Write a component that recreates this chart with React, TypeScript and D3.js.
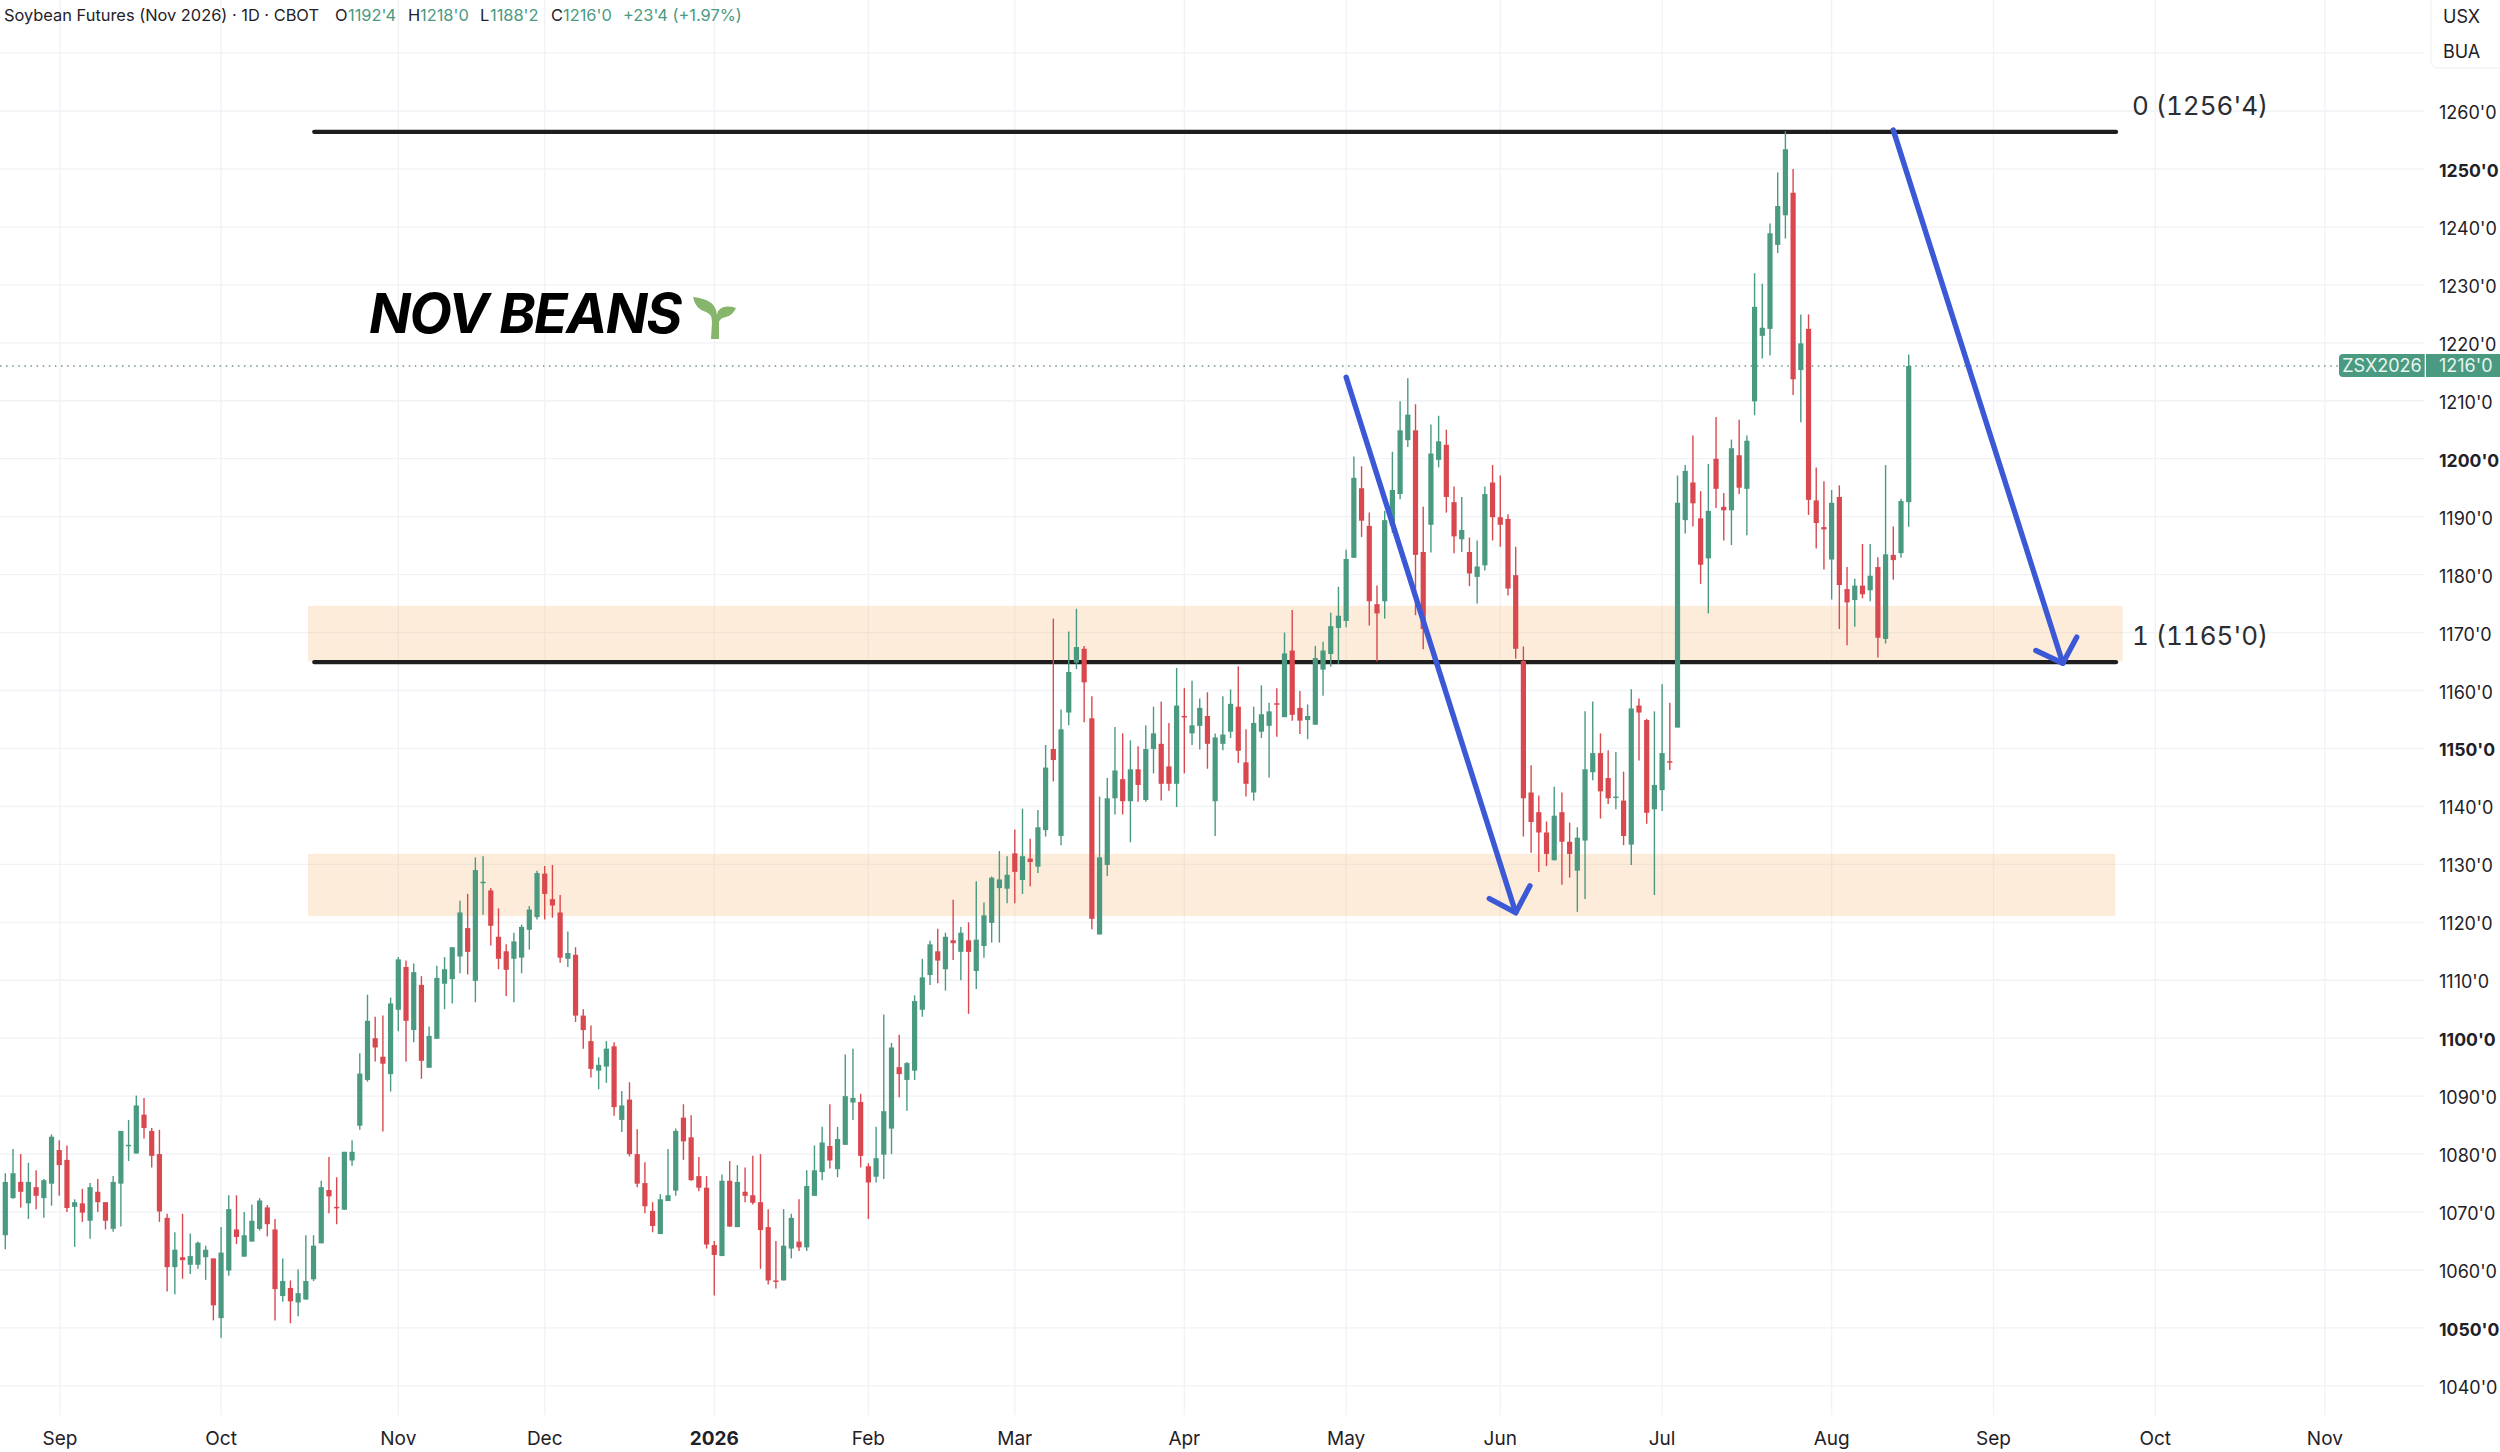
import * as d3 from 'd3';
import React, { useEffect, useRef } from 'react';

const opens = [
  1066.0,1072.4,1075.2,1071.5,1074.3,1072.4,1074.9,1080.7,1079.0,1070.9,
  1071.5,1068.5,1073.5,1071.7,1067.1,1074.9,1081.5,1080.1,1086.8,1084.0,
  1080.0,1069.0,1060.5,1062.2,1060.9,1060.9,1062.2,1062.0,1051.7,1059.9,
  1067.0,1062.3,1064.9,1067.1,1070.8,1067.0,1055.5,1056.9,1054.4,1054.9,
  1058.4,1064.6,1073.8,1070.9,1070.4,1078.9,1084.9,1092.8,1100.0,1096.8,
  1093.8,1104.9,1112.3,1101.4,1109.2,1094.9,1099.9,1109.4,1110.2,1114.1,
  1119.0,1109.9,1126.9,1125.5,1117.5,1115.0,1113.7,1113.9,1118.7,1120.9,
  1128.4,1124.0,1121.7,1113.7,1114.4,1103.9,1099.5,1094.4,1095.1,1098.6,
  1085.9,1089.4,1080.0,1075.0,1070.2,1066.2,1071.9,1073.7,1086.3,1082.9,
  1076.2,1074.2,1064.3,1062.4,1075.4,1067.4,1073.5,1072.9,1071.7,1067.4,
  1058.2,1058.2,1063.7,1064.9,1063.9,1072.8,1076.9,1081.4,1077.4,1081.6,
  1088.9,1089.0,1077.9,1076.1,1079.9,1084.4,1095.0,1092.8,1094.4,1104.9,
  1110.9,1115.0,1111.9,1116.9,1114.9,1116.9,1111.6,1115.9,1119.9,1125.9,
  1125.8,1131.9,1127.3,1131.0,1129.6,1135.9,1149.9,1134.9,1156.2,1164.8,
  1167.2,1155.2,1117.9,1129.9,1141.4,1144.7,1140.9,1146.4,1141.1,1149.9,
  1150.8,1146.9,1143.9,1155.6,1152.6,1153.9,1155.6,1140.9,1150.8,1152.9,
  1157.2,1147.6,1142.4,1152.9,1153.9,1157.8,1155.4,1166.9,1157.0,1154.9,
  1154.1,1163.6,1166.3,1170.8,1172.0,1182.9,1194.9,1188.4,1174.9,1175.4,
  1188.4,1193.9,1203.2,1204.9,1183.9,1188.6,1199.8,1202.4,1192.5,1186.1,
  1183.9,1179.6,1181.6,1195.9,1189.9,1189.6,1179.9,1165.1,1142.4,1139.0,
  1135.5,1130.7,1139.0,1133.9,1128.9,1134.1,1145.9,1149.2,1144.9,1141.6,
  1141.0,1133.4,1157.4,1154.9,1139.5,1142.8,1147.8,1153.6,1189.4,1195.9,
  1189.7,1182.8,1200.0,1191.7,1191.1,1200.6,1194.8,1209.9,1221.2,1222.4,
  1236.9,1242.0,1245.9,1215.3,1222.4,1192.8,1188.2,1182.6,1193.4,1177.5,
  1175.6,1178.1,1177.3,1181.3,1168.9,1183.4,1183.7,1192.5,
];
const closes = [
  1075.2,1076.7,1073.5,1075.2,1072.8,1075.5,1083.0,1078.1,1070.7,1071.7,
  1069.9,1074.3,1071.7,1068.5,1075.2,1084.0,1081.6,1088.4,1084.5,1079.7,
  1070.1,1060.5,1063.5,1061.7,1062.4,1064.7,1063.5,1053.9,1063.0,1070.5,
  1065.7,1066.0,1068.5,1072.0,1067.9,1056.7,1058.1,1054.6,1056.0,1058.1,
  1064.2,1074.3,1072.7,1070.8,1080.4,1080.4,1093.9,1103.0,1098.4,1095.6,
  1106.0,1113.6,1103.0,1111.4,1096.1,1100.4,1110.4,1111.9,1115.7,1121.7,
  1114.9,1129.0,1127.0,1119.4,1113.7,1111.8,1116.7,1119.2,1122.2,1128.5,
  1124.9,1122.9,1113.9,1114.7,1103.9,1101.4,1094.7,1095.4,1098.2,1088.1,
  1088.4,1080.0,1074.9,1071.0,1067.6,1072.2,1072.9,1084.0,1082.2,1075.5,
  1074.2,1064.4,1062.6,1075.4,1067.5,1075.2,1072.8,1071.6,1066.9,1058.2,
  1058.0,1064.2,1069.0,1063.9,1074.5,1077.2,1082.0,1078.9,1082.6,1090.0,
  1089.7,1079.7,1075.1,1079.3,1087.4,1098.4,1093.8,1095.7,1106.4,1110.5,
  1116.2,1113.4,1117.5,1116.4,1118.2,1114.9,1117.0,1121.2,1127.7,1127.4,
  1128.2,1128.7,1131.4,1130.4,1136.4,1146.7,1148.0,1153.3,1163.2,1167.5,
  1161.4,1120.6,1131.2,1141.4,1146.2,1140.9,1146.4,1143.7,1149.9,1152.6,
  1143.9,1143.9,1157.4,1155.4,1154.0,1157.0,1150.8,1151.9,1152.4,1157.7,
  1149.6,1143.9,1154.4,1155.9,1156.4,1157.6,1166.4,1155.8,1154.8,1155.6,
  1165.6,1166.9,1171.1,1172.9,1182.7,1196.7,1189.3,1175.4,1173.3,1189.4,
  1194.6,1204.9,1207.6,1183.4,1170.6,1200.9,1203.0,1193.4,1186.6,1187.7,
  1180.2,1181.4,1193.9,1189.9,1188.6,1177.6,1167.2,1141.4,1137.3,1135.5,
  1131.8,1138.4,1133.9,1131.8,1134.6,1146.4,1149.2,1142.6,1141.4,1141.7,
  1134.9,1156.9,1156.2,1138.9,1143.7,1149.2,1147.6,1192.4,1197.9,1192.3,
  1181.7,1191.0,1194.8,1191.1,1201.8,1195.0,1203.1,1226.2,1222.6,1238.9,
  1243.6,1253.4,1213.7,1219.9,1192.9,1188.9,1187.8,1192.4,1178.2,1175.2,
  1178.1,1176.6,1179.8,1169.1,1183.5,1182.5,1192.7,1216.0,
];
const highs = [
  1076.7,1080.9,1080.0,1078.5,1077.2,1075.7,1083.4,1082.4,1081.5,1072.2,
  1074.0,1075.0,1075.7,1071.7,1076.2,1084.0,1085.9,1090.1,1089.7,1084.5,
  1084.2,1069.7,1066.5,1069.7,1066.3,1064.9,1064.2,1062.0,1067.4,1072.9,
  1072.9,1070.0,1071.3,1072.4,1071.2,1068.8,1062.0,1058.2,1060.1,1066.0,
  1066.0,1075.4,1079.5,1076.0,1080.4,1082.4,1097.4,1107.5,1103.7,1103.9,
  1107.0,1114.0,1113.4,1112.9,1110.7,1102.0,1112.5,1114.0,1115.7,1123.7,
  1124.9,1131.2,1131.4,1125.9,1122.4,1116.2,1118.2,1119.6,1122.8,1128.9,
  1129.7,1129.9,1124.7,1118.4,1115.7,1105.0,1102.2,1096.7,1099.5,1099.3,
  1090.9,1092.4,1084.3,1078.6,1071.7,1073.1,1080.9,1084.4,1088.6,1086.7,
  1079.5,1076.2,1065.0,1076.5,1078.8,1078.1,1077.7,1079.7,1080.0,1070.5,
  1065.0,1070.5,1069.7,1072.2,1077.2,1081.5,1084.7,1088.6,1084.7,1097.2,
  1098.2,1090.4,1078.4,1084.7,1104.1,1099.2,1100.6,1095.9,1107.4,1113.7,
  1116.8,1118.9,1118.2,1123.9,1119.2,1120.0,1127.1,1123.4,1127.9,1132.3,
  1131.4,1136.0,1139.6,1134.4,1139.4,1150.6,1172.4,1156.7,1170.2,1174.1,
  1167.7,1159.0,1141.7,1144.9,1153.7,1152.6,1151.4,1150.4,1154.0,1157.2,
  1158.1,1154.4,1163.9,1160.4,1161.7,1158.6,1159.7,1152.6,1159.0,1160.2,
  1164.2,1153.3,1157.2,1160.9,1157.9,1160.4,1170.0,1173.9,1159.9,1157.6,
  1167.7,1168.4,1173.4,1177.9,1184.3,1200.4,1198.7,1190.7,1178.1,1191.0,
  1201.2,1209.9,1213.9,1209.4,1191.7,1205.9,1207.4,1205.0,1195.2,1193.4,
  1186.4,1185.9,1195.2,1198.9,1197.1,1190.4,1184.8,1167.6,1147.1,1141.9,
  1137.4,1143.4,1142.4,1137.2,1136.4,1156.4,1158.1,1152.6,1149.7,1149.4,
  1146.0,1160.2,1158.6,1155.1,1156.4,1161.1,1157.9,1197.1,1198.9,1204.0,
  1194.4,1199.1,1207.2,1194.1,1203.3,1206.7,1204.0,1232.0,1230.2,1240.6,
  1249.4,1256.5,1250.0,1224.9,1224.9,1198.5,1196.1,1194.6,1195.4,1181.3,
  1179.3,1185.3,1185.3,1183.0,1198.9,1188.3,1193.1,1218.0,
];
const lows = [
  1063.6,1072.3,1070.8,1068.8,1070.5,1069.0,1071.1,1072.8,1070.0,1064.0,
  1068.3,1065.4,1070.0,1067.0,1066.6,1067.5,1078.8,1080.1,1082.7,1077.7,
  1068.3,1056.3,1055.8,1058.5,1059.3,1060.2,1058.3,1051.3,1048.3,1059.0,
  1064.5,1062.3,1064.9,1066.8,1065.8,1051.3,1054.5,1050.8,1052.0,1054.9,
  1058.1,1064.6,1069.8,1067.9,1070.4,1078.0,1084.2,1092.5,1096.0,1083.9,
  1090.8,1101.2,1096.0,1099.3,1093.0,1094.9,1099.9,1105.0,1106.0,1111.2,
  1111.0,1106.2,1121.3,1116.0,1111.9,1107.3,1106.2,1111.2,1115.3,1120.5,
  1120.5,1120.8,1113.0,1112.3,1102.8,1098.2,1093.2,1091.2,1092.3,1086.6,
  1083.8,1079.6,1074.3,1069.8,1066.5,1066.2,1071.9,1072.8,1079.0,1075.4,
  1073.6,1063.7,1055.6,1062.4,1067.4,1067.4,1071.7,1071.3,1060.2,1057.5,
  1056.8,1058.2,1062.0,1063.3,1063.3,1072.8,1075.5,1077.5,1076.0,1081.6,
  1085.9,1077.7,1068.8,1075.1,1075.7,1080.0,1089.8,1087.5,1092.8,1103.7,
  1109.2,1109.5,1108.2,1113.5,1110.0,1104.2,1108.5,1113.9,1116.5,1116.5,
  1123.3,1123.3,1124.9,1126.2,1128.5,1134.8,1144.3,1133.3,1154.0,1163.7,
  1154.5,1118.8,1117.9,1128.0,1138.6,1138.6,1133.8,1140.8,1140.8,1145.7,
  1141.0,1142.7,1139.9,1145.7,1150.6,1149.8,1146.5,1134.9,1149.7,1151.8,
  1147.5,1141.7,1141.0,1151.8,1145.0,1152.0,1155.4,1154.8,1152.5,1151.6,
  1154.1,1159.1,1164.1,1164.6,1170.9,1182.9,1186.5,1171.2,1165.0,1172.4,
  1187.2,1193.0,1202.0,1173.0,1167.1,1183.8,1198.5,1190.7,1183.7,1183.9,
  1178.0,1175.0,1180.7,1185.9,1184.8,1176.4,1165.5,1134.8,1132.0,1128.7,
  1129.7,1130.7,1126.5,1127.7,1121.8,1124.0,1144.5,1137.9,1140.4,1139.5,
  1133.3,1129.9,1147.9,1137.0,1124.7,1139.2,1146.3,1153.6,1187.1,1188.3,
  1178.4,1173.3,1191.5,1185.9,1185.1,1193.9,1186.8,1207.5,1217.3,1217.8,
  1235.5,1238.0,1211.0,1206.3,1190.3,1184.5,1180.9,1175.7,1170.6,1167.8,
  1171.0,1175.9,1175.4,1165.7,1168.1,1179.1,1182.9,1188.25,
];

const priceTicks = d3.range(1040, 1271, 10);
const monthBars = [7.1, 28, 51, 70, 92, 112, 131, 153, 174, 194, 215, 237, 258, 279, 301];
const monthLabels = ['Sep', 'Oct', 'Nov', 'Dec', '2026', 'Feb', 'Mar', 'Apr', 'May', 'Jun', 'Jul', 'Aug', 'Sep', 'Oct', 'Nov'];

const levels = [
  { price: 1256.4, label: "0 (1256'4)" },
  { price: 1164.9, label: "1 (1165'0)" },
];
// [left bar, right bar, top price, bottom price]
const zones = [
  [39.28, 274.77, 1174.6, 1165],
  [39.28, 273.8, 1131.8, 1121.1],
];
// start, tip, wing, wing as [bar, price]
const arrows = [
  [[174, 1214.05], [196, 1121.65], [192.58, 1124.1], [197.85, 1126.3]],
  [[245, 1256.7], [267, 1164.7], [263.5, 1166.9], [268.8, 1169.2]],
];
const lastPrice = 1216;

const UP = '#4a9a82';
const DOWN = '#d9484f';
const GRID = '#f0f2f6';
const TEXT = '#1f2127';
const FONT = 'Inter, "Noto Sans", sans-serif';

const fmt = (p: number) => `${p}'0`;

function App() {
  const svgRef = useRef<SVGSVGElement>(null);

  useEffect(() => {
    const svg = d3.select(svgRef.current);
    svg.selectAll('*').remove();

    const x = d3.scaleLinear().domain([0, 247]).range([5.3, 1908.7]);
    const y = d3.scaleLinear().domain([1040, 1260]).range([1385.9, 111]);
    const plotRight = 2424;
    const plotBottom = 1415;

    // grid
    svg.selectAll('.hgrid').data(priceTicks).join('line')
      .attr('x1', 0).attr('x2', plotRight)
      .attr('y1', (d) => y(d)).attr('y2', (d) => y(d))
      .attr('stroke', GRID).attr('stroke-width', 1.3);
    svg.selectAll('.vgrid').data(monthBars).join('line')
      .attr('x1', (d) => x(d)).attr('x2', (d) => x(d))
      .attr('y1', 0).attr('y2', plotBottom)
      .attr('stroke', GRID).attr('stroke-width', 1.3);

    // zones
    svg.selectAll('.zone').data(zones).join('rect')
      .attr('x', (d) => x(d[0])).attr('width', (d) => x(d[1]) - x(d[0]))
      .attr('y', (d) => y(d[2])).attr('height', (d) => y(d[3]) - y(d[2]))
      .attr('fill', 'rgba(245,192,128,0.3)');

    // last price dotted line
    svg.append('line')
      .attr('x1', 0).attr('x2', 2339)
      .attr('y1', y(lastPrice)).attr('y2', y(lastPrice))
      .attr('stroke', '#6f9488').attr('stroke-width', 1.4)
      .attr('stroke-dasharray', '1.5 4.6');

    svg.selectAll('.level').data(levels).join('line')
      .attr('x1', x(40.1)).attr('x2', x(273.9))
      .attr('y1', (d) => y(d.price)).attr('y2', (d) => y(d.price))
      .attr('stroke', '#1e1e1e').attr('stroke-width', 4.4)
      .attr('stroke-linecap', 'round');

    // candles sit over the black lines
    const bars = d3.range(opens.length);
    const candles = svg.append('g');
    candles.selectAll('line').data(bars).join('line')
      .attr('x1', (i) => x(i)).attr('x2', (i) => x(i))
      .attr('y1', (i) => y(highs[i])).attr('y2', (i) => y(lows[i]))
      .attr('stroke', (i) => (closes[i] >= opens[i] ? UP : DOWN))
      .attr('stroke-width', 1.4);
    const bw = 5.2;
    candles.selectAll('rect').data(bars).join('rect')
      .attr('x', (i) => x(i) - bw / 2).attr('width', bw)
      .attr('y', (i) => y(Math.max(opens[i], closes[i])))
      .attr('height', (i) => Math.max(1.5, Math.abs(y(opens[i]) - y(closes[i]))))
      .attr('fill', (i) => (closes[i] >= opens[i] ? UP : DOWN));

    svg.selectAll('.levelLabel').data(levels).join('text')
      .attr('x', 2132).attr('y', (d) => y(d.price) - 17)
      .attr('font-family', FONT).attr('font-size', 26).attr('fill', '#2b2d33')
      .style('font-variant-numeric', 'tabular-nums')
      .text((d) => d.label);

    // arrows
    const line = d3.line<number[]>().x((d) => x(d[0])).y((d) => y(d[1]));
    arrows.forEach((a) => {
      [[a[0], a[1]], [a[2], a[1], a[3]]].forEach((pts) => {
        svg.append('path')
          .attr('d', line(pts))
          .attr('fill', 'none').attr('stroke', '#3b58d6')
          .attr('stroke-width', 5.4).attr('stroke-linecap', 'round').attr('stroke-linejoin', 'round');
      });
    });

    // title + sprout
    svg.append('text')
      .attr('x', 369).attr('y', 332.7)
      .attr('font-family', FONT).attr('font-size', 55).attr('font-weight', 700)
      .attr('font-style', 'italic').attr('fill', '#000')
      .attr('letter-spacing', -1.5)
      .text('NOV BEANS');
    svg.append('path')
      .attr('fill', '#86b56c')
      .attr('d', 'M711 339 L719 339 L719 322 Q720 318 726 317 Q733 315 736 308 Q724 304 718 311 L717 315 Q716 299 693 297 Q695 309 706 312 Q712 314 712 322 Z');

    // price axis
    svg.selectAll('.ptick').data(priceTicks.filter((d) => d <= 1260)).join('text')
      .attr('x', 2439).attr('y', (d) => y(d) + 8)
      .attr('font-family', FONT).attr('font-size', (d) => (d % 50 === 0 ? 17.6 : 18)).attr('fill', TEXT)
      .attr('font-weight', (d) => (d % 50 === 0 ? 700 : 400))
      .text((d) => fmt(d));

    // month axis
    svg.selectAll('.mtick').data(monthBars).join('text')
      .attr('x', (d) => x(d)).attr('y', 1444.5)
      .attr('text-anchor', 'middle')
      .attr('font-family', FONT).attr('font-size', 19).attr('fill', TEXT)
      .attr('font-weight', (_, i) => (monthLabels[i] === '2026' ? 700 : 400))
      .text((_, i) => monthLabels[i]);

    // last price tag
    const tagY = y(lastPrice);
    svg.append('path')
      .attr('d', `M2424.7 ${tagY - 12} H2343 a4 4 0 0 0 -4 4 V${tagY + 7} a4 4 0 0 0 4 4 H2424.7 Z`)
      .attr('fill', UP);
    svg.append('rect').attr('x', 2426).attr('y', tagY - 12).attr('width', 74).attr('height', 23).attr('fill', UP);
    svg.append('text').attr('x', 2382).attr('y', tagY + 6.5).attr('text-anchor', 'middle')
      .attr('font-family', FONT).attr('font-size', 18).attr('fill', '#e6f5ef').text('ZSX2026');
    svg.append('text').attr('x', 2439).attr('y', tagY + 6.5)
      .attr('font-family', FONT).attr('font-size', 18).attr('fill', '#e6f5ef').text(fmt(lastPrice));

    // currency/unit box
    svg.append('rect').attr('x', 2431).attr('y', -4).attr('width', 80).attr('height', 72).attr('rx', 7)
      .attr('fill', '#fff').attr('stroke', '#f3f4f7').attr('stroke-width', 1.3);
    ['USX', 'BUA'].forEach((t, i) => {
      svg.append('text').attr('x', 2443).attr('y', 23 + i * 35)
        .attr('font-family', FONT).attr('font-size', 18).attr('fill', TEXT).text(t);
    });

    // header
    const header: [number, string, string][] = [
      [4, 'Soybean Futures (Nov 2026) · 1D · CBOT', TEXT],
      [335, 'O', TEXT], [348, "1192'4", UP],
      [408, 'H', TEXT], [420, "1218'0", UP],
      [480, 'L', TEXT], [490, "1188'2", UP],
      [551, 'C', TEXT], [563, "1216'0", UP],
      [623, "+23'4 (+1.97%)", UP],
    ];
    svg.selectAll('.head').data(header).join('text')
      .attr('x', (d) => d[0]).attr('y', 21)
      .attr('font-family', FONT).attr('font-size', 16.4)
      .attr('fill', (d) => d[2])
      .text((d) => d[1]);
  }, []);

  return (
    <svg
      ref={svgRef}
      width={2500}
      height={1452}
      style={{ position: 'absolute', left: 0, top: 0, background: '#fff', display: 'block' }}
    />
  );
}

export default App;
